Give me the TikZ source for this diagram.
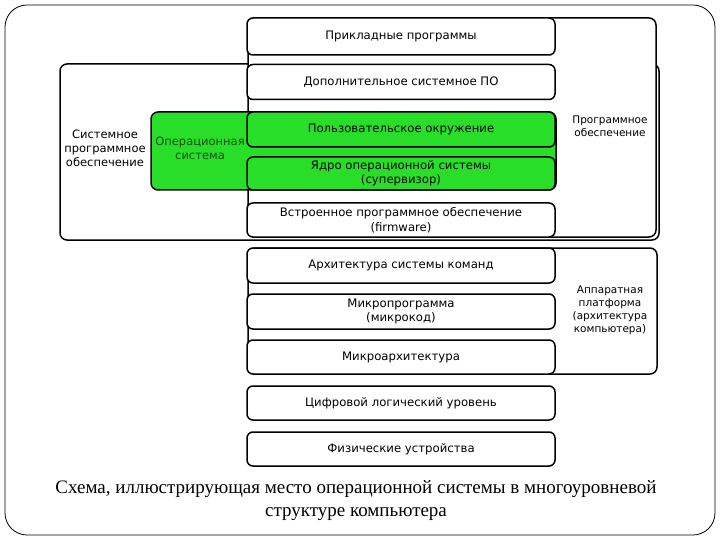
\documentclass[tikz,border=0pt]{standalone}
\usepackage{fontspec}
\newfontfamily\boxfont{DejaVu Sans}
\newfontfamily\capfont{Liberation Serif}
\usepackage{tikz}
\definecolor{osgreen}{RGB}{40,222,40}
\definecolor{ostext}{RGB}{15,80,15}

\begin{document}
\begin{tikzpicture}[x=1pt,y=-1pt,
    layer/.style={draw, line width=1.5pt, rounded corners=6pt, fill=white, minimum width=308pt, minimum height=35pt, inner sep=0pt, align=center, font=\boxfont\fontsize{11.7}{14.5}\selectfont},
    oslayer/.style={layer, fill=osgreen},
    group/.style={draw, line width=1.5pt, rounded corners=7pt},
    grouplabel/.style={align=center, inner sep=0pt, font=\boxfont\fontsize{10.5}{13}\selectfont}]
\useasboundingbox (0,0) rectangle (720,540);
\draw[line width=0.8pt, rounded corners=22pt] (5,5) rectangle (715,535);
\draw[group] (60,64) rectangle (659,240);
\draw[group, fill=white] (248,18) rectangle (656,237);
\draw[group] (248,248) rectangle (657,374);
\draw[group, fill=osgreen] (151,112) rectangle (556,190);
\node (sysname) [grouplabel, font=\boxfont\fontsize{11.5}{14}\selectfont] at (105,148) {Системное\\программное\\обеспечение};
\node (osname) [grouplabel, text=ostext, font=\boxfont\fontsize{11.5}{14}\selectfont] at (200,148) {Операционная\\система};
\node (swname) [grouplabel] at (610,126) {Программное\\обеспечение};
\node (hwname) [grouplabel] at (610,310) {Аппаратная\\платформа\\(архитектура\\компьютера)};
\node (apps) [layer, minimum height=37pt] at (401,36.5) {Прикладные программы};
\node (sysextra) [layer] at (401,82) {Дополнительное системное ПО};
\node (userenv) [oslayer] at (401,129.5) {Пользовательское окружение};
\node (kernel) [oslayer, minimum height=33pt] at (401,173.5) {Ядро операционной системы\\(супервизор)};
\node (firmware) [layer, minimum height=34pt] at (401,220) {Встроенное программное обеспечение\\(firmware)};
\node (isa) [layer] at (401,265.5) {Архитектура системы команд};
\node (microprog) [layer] at (401,311.5) {Микропрограмма\\(микрокод)};
\node (microarch) [layer, minimum height=34pt] at (401,357) {Микроархитектура};
\node (digital) [layer, minimum height=34pt] at (401,403) {Цифровой логический уровень};
\node (physical) [layer, minimum height=34pt] at (401,449) {Физические устройства};
\node (caption) [align=center, font=\capfont\fontsize{19}{23}\selectfont] at (356,501) {Схема, иллюстрирующая место операционной системы в многоуровневой\\структуре компьютера};
\end{tikzpicture}
\end{document}
